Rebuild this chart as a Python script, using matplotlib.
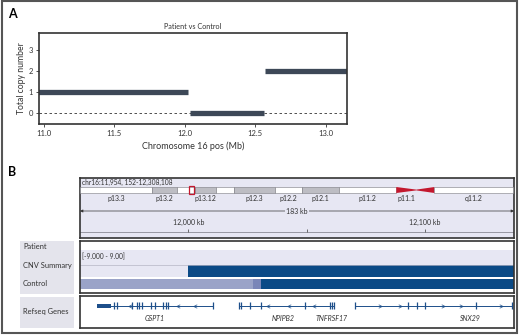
import matplotlib.pyplot as plt
from matplotlib.patches import Rectangle, Polygon

plt.rcParams['font.family'] = ['Lato', 'DejaVu Sans']

W, H = 520, 335

# ================== Panel A data ==================
cn_start = [10.96, 12.035, 12.57]     # Mb
cn_end = [12.02, 12.56, 13.16]
cn_value = [1, 0, 2]
a_xticks = [11.0, 11.5, 12.0, 12.5, 13.0]
a_yticks = [0, 1, 2, 3]

# ================== Panel B data ==================
view_start, view_end = 11954.2, 12137.6   # kb
region_text = 'chr16:11,954, 152-12,308,108'
ruler_ticks = [12000, 12050, 12100]
ruler_labels = ['12,000 kb', '', '12,100 kb']

# ideogram bands (Mb)
band_start = [0.0, 7.9, 10.7, 12.6, 15.0, 16.9, 21.4, 24.4, 28.5, 34.8, 37.0, 39.0]
band_end = [7.9, 10.7, 12.6, 15.0, 16.9, 21.4, 24.4, 28.5, 34.8, 37.0, 39.0, 47.6]
band_name = ['p13.3', 'p13.2', '', 'p13.12', '', 'p12.3', 'p12.2', 'p12.1',
             'p11.2', 'p11.1', '', 'q11.2']
band_stain = ['w', 'g', 'w', 'g', 'w', 'g', 'w', 'g', 'w', 'acen_p', 'acen_q', 'w']
view_box_mb = (12.0, 12.5)

# CNV tracks (kb)
cnv_start = [12000.0]
cnv_end = [12137.6]
control_start = [11954.2, 12027.3, 12030.5]
control_end = [12027.3, 12030.5, 12137.6]
control_color = ['#9aa3c8', '#7a86b8', '#0b4a86']

# RefSeq genes (kb)
gene_name = ['GSPT1', 'NPIPB2', 'TNFRSF17', 'SNX29']
gene_start = [11961.5, 12021.2, 12050.0, 12070.5]
gene_end = [12010.3, 12050.0, 12061.5, 12136.8]
gene_label_kb = [11985.9, 12040.2, 12060.7, 12119.2]
gene_block = [(11961.5, 11967.1), None, None, None]
gene_exons = [
    [11968.4, 11969.7, 11976.1, 11978.2, 11979.1, 11980.3, 11984.2, 11985.9,
     11989.3, 11990.6, 11991.5, 12010.3],
    [12021.2, 12022.2, 12026.1, 12030.8, 12049.1],
    [12059.8, 12060.7, 12061.5],
    [12070.5, 12092.7, 12096.6, 12100.0, 12121.4, 12136.8],
]
gene_arrows = [
    [11975.2, 11995.7, 12003.0],
    [12033.8, 12042.7],
    [12053.0],
    [12080.8, 12089.3, 12107.7, 12115.0, 12132.1],
]
gene_strand = [-1, -1, -1, 1]

LAV = '#e7e7f3'
DARK = '#0b4a86'
EDGE = '#333333'


def rect(x0, y0, x1, y1):
    return [x0 / W, 1 - y1 / H, (x1 - x0) / W, (y1 - y0) / H]


def frame(ax, lw=1.2):
    for s in ax.spines.values():
        s.set_linewidth(lw)
        s.set_color(EDGE)
    ax.set_xticks([])
    ax.set_yticks([])


fig = plt.figure(figsize=(W / 100, H / 100), dpi=100)

# ---------------- Panel A ----------------
fig.text(12 / W, 1 - 14 / H, 'A', fontsize=9, fontweight='bold', ha='center', va='center')
axA = fig.add_axes(rect(39, 33, 347, 124))
axA.axhline(0, color='#333', lw=0.6, ls=(0, (3, 3)), zorder=1)
axA.hlines(cn_value, cn_start, cn_end, color='#3d4857', lw=3.8, zorder=2)
axA.set_xlim(10.965, 13.15)
axA.set_ylim(-0.52, 3.81)
axA.set_xticks(a_xticks)
axA.set_xticklabels([f'{v:.1f}' for v in a_xticks])
axA.set_yticks(a_yticks)
axA.tick_params(labelsize=5.5, length=2.5, width=0.6, pad=2, colors='#333')
for s in axA.spines.values():
    s.set_linewidth(1.2)
    s.set_color(EDGE)
axA.set_title('Patient vs Control', fontsize=5.2, pad=3, color='#333')
axA.set_xlabel('Chromosome 16 pos (Mb)', fontsize=6.5, labelpad=3, color='#333')
axA.set_ylabel('Total copy number', fontsize=6.2, labelpad=1.5, color='#333')

# ---------------- Panel B ----------------
fig.text(12 / W, 1 - 172 / H, 'B', fontsize=9, fontweight='bold', ha='center', va='center')

# ideogram + ruler box
axB = fig.add_axes(rect(80, 178, 514, 238))
axB.set_facecolor(LAV)
axB.set_xlim(view_start, view_end)
axB.set_ylim(238, 178)
frame(axB)
axB.text(view_start + 0.8, 182.3, region_text, fontsize=4.8, va='center', ha='left', color='#333')
axB.annotate('', xy=(view_end, 211), xytext=(view_start, 211),
             arrowprops=dict(arrowstyle='<|-|>', lw=0.5, color='#333',
                             mutation_scale=4, shrinkA=0, shrinkB=0))
axB.text((view_start + view_end) / 2, 211, f'{round(view_end - view_start)} kb',
         fontsize=5, ha='center', va='center', color='#333',
         bbox=dict(fc=LAV, ec='none', pad=0.6))
axB.axhline(232, color='#8a8a95', lw=0.6)
axB.vlines(ruler_ticks, 228.5, 232, color='#555', lw=0.6)
for t, lab in zip(ruler_ticks, ruler_labels):
    axB.text(t, 222, lab, fontsize=5, ha='center', va='center', color='#333')

axI = fig.add_axes(rect(80, 178, 514, 238), facecolor='none')
axI.set_xlim(0, 47.75)
axI.set_ylim(238, 178)
axI.axis('off')
for s, e, name, stain in zip(band_start, band_end, band_name, band_stain):
    if stain == 'acen_p':
        axI.add_patch(Polygon([(s, 187), (e, 189.6), (e, 190.4), (s, 193)], color='#c3182e', lw=0))
    elif stain == 'acen_q':
        axI.add_patch(Polygon([(s, 189.6), (e, 187), (e, 193), (s, 190.4)], color='#c3182e', lw=0))
    else:
        fc = '#bdbdc3' if stain == 'g' else 'white'
        axI.add_patch(Rectangle((s, 187), e - s, 6, fc=fc, ec='#7a7a80', lw=0.4))
    if name:
        axI.text((s + e) / 2, 198, name, fontsize=5, ha='center', va='center', color='#333')
axI.add_patch(Rectangle((view_box_mb[0], 185.8), view_box_mb[1] - view_box_mb[0], 8.4,
                        fill=False, ec='#c3182e', lw=0.9))

# CNV data panel
axD = fig.add_axes(rect(80, 241, 514, 293))
axD.set_xlim(view_start, view_end)
axD.set_ylim(293, 241)
frame(axD)
axD.axhspan(250, 277, color=LAV, lw=0)
axD.axhline(264.8, color='#b5b5c5', lw=0.5)
axD.text(view_start + 0.8, 256.5, '[-9.000 - 9.00]', fontsize=4.8, va='center', ha='left', color='#333')
axD.barh([271] * len(cnv_start), [e - s for s, e in zip(cnv_start, cnv_end)],
         left=cnv_start, height=12, color=DARK, lw=0)
axD.barh([284] * len(control_start), [e - s for s, e in zip(control_start, control_end)],
         left=control_start, height=10, color=control_color, lw=0)

# gene panel
axG = fig.add_axes(rect(80, 296, 514, 328))
axG.set_xlim(view_start, view_end)
axG.set_ylim(328, 296)
frame(axG)
gc = '#1d4f8a'
yl = 305.5
for i in range(len(gene_name)):
    axG.hlines(yl, gene_start[i], gene_end[i], color=gc, lw=0.7)
    if gene_block[i]:
        b0, b1 = gene_block[i]
        axG.add_patch(Rectangle((b0, yl - 2), b1 - b0, 4, color=gc, lw=0))
    axG.vlines(gene_exons[i], yl - 3.5, yl + 3.5, color=gc, lw=0.9)
    chev = [(1, 1), (-1, 0), (1, -1)] if gene_strand[i] < 0 else [(-1, 1), (1, 0), (-1, -1)]
    axG.plot(gene_arrows[i], [yl] * len(gene_arrows[i]), ls='none', marker=chev,
             ms=2.5, mfc='none', mec=gc, mew=0.5)
    axG.text(gene_label_kb[i], 318.5, gene_name[i], fontsize=5, style='italic',
             ha='center', va='center', color='#333')

# left track labels
for (y0, y1), labels in [((241, 294), [(247, 'Patient'), (265.5, 'CNV Summary'), (283.5, 'Control')]),
                         ((297, 328), [(311.5, 'Refseq Genes')])]:
    axL = fig.add_axes(rect(20, y0, 74, y1))
    axL.set_facecolor('#e4e4ec')
    axL.set_xlim(20, 74)
    axL.set_ylim(y1, y0)
    axL.set_xticks([])
    axL.set_yticks([])
    for s in axL.spines.values():
        s.set_visible(False)
    for y, lab in labels:
        axL.text(23, y, lab, fontsize=5.4, ha='left', va='center', color='#333')

# outer border
fig.add_artist(Rectangle((0.003, 0.005), 0.991, 0.992, transform=fig.transFigure,
                         fill=False, ec='#555', lw=1.5))

plt.savefig('out.png', dpi=100)
plt.close()
